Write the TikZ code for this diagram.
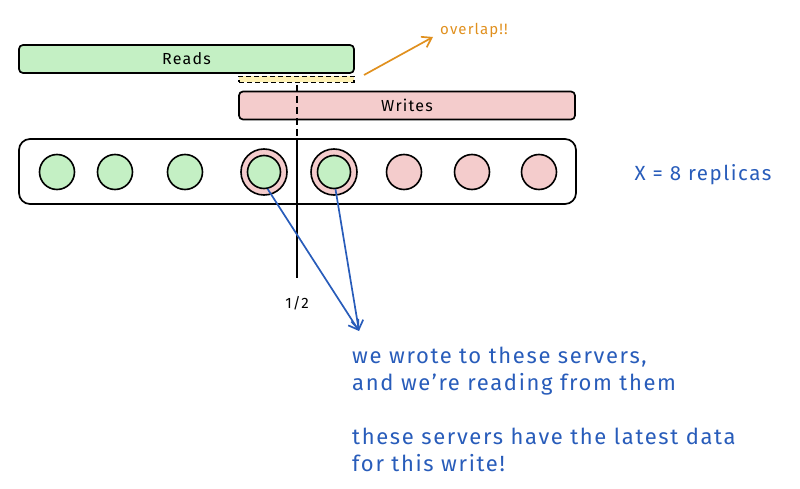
\documentclass[tikz,border=0pt]{standalone}
\usepackage{fontspec}
\setmainfont{Fira Sans}[LetterSpace=7.5]
\usetikzlibrary{arrows.meta}
\definecolor{gfill}{RGB}{196,240,196}
\definecolor{pfill}{RGB}{244,204,204}
\definecolor{yfill}{RGB}{255,242,180}
\definecolor{bluet}{RGB}{40,92,186}
\definecolor{orng}{RGB}{224,144,30}
\tikzset{
  bar/.style={draw=black, line width=1.7pt, rounded corners=4pt, minimum height=28pt, inner sep=0pt},
  rep/.style={circle, draw=black, line width=1.6pt, minimum size=35pt, inner sep=0pt},
  replica/.style={rep, fill=gfill},
  preplica/.style={rep, fill=pfill},
  outerrep/.style={circle, draw=black, line width=1.6pt, fill=pfill, minimum size=46pt, inner sep=0pt},
  note/.style={text=bluet, font=\fontsize{22}{27}\selectfont, align=left, inner sep=0pt},
  barrow/.style={draw=bluet, line width=1.7pt, -{Straight Barb[length=9pt,width=12pt]}},
}
\begin{document}
\begin{tikzpicture}[x=1pt,y=-1pt]
\useasboundingbox (0,0) rectangle (800,489);
% bars
\node[bar, fill=gfill, minimum width=335pt] (reads) at (186.5,59) {\fontsize{16}{18}\selectfont Reads};
\node[draw=black, dash pattern=on 5pt off 3pt, line width=1.7pt, fill=yfill, minimum width=115pt, minimum height=6pt, inner sep=0pt] (overlap) at (296.5,79.5) {};
\node[bar, fill=pfill, minimum width=336pt] (writes) at (407,105.5) {\fontsize{16}{18}\selectfont Writes};
% replica container
\node[draw=black, line width=1.7pt, rounded corners=11pt, minimum width=557pt, minimum height=65pt, inner sep=0pt] (group) at (297.5,171.5) {};
% replicas
\node[replica] (r1) at (57,172) {};
\node[replica] (r2) at (115,172) {};
\node[replica] (r3) at (185,172) {};
\node[outerrep] (r4o) at (264,172) {};
\node[replica, minimum size=33pt] (r4) at (264,172) {};
\node[outerrep] (r5o) at (334,172) {};
\node[replica, minimum size=33pt] (r5) at (334,172) {};
\node[preplica] (r6) at (404,172) {};
\node[preplica] (r7) at (472,172) {};
\node[preplica] (r8) at (539,172) {};
% half line
\coordinate (htop) at (297,85);
\coordinate (hmid) at (297,139);
\coordinate (hbot) at (297,278);
\draw[line width=1.7pt, dash pattern=on 7pt off 4pt] (htop) -- (hmid);
\draw[line width=1.7pt] (hmid) -- (hbot);
\node[font=\fontsize{15}{18}\selectfont, inner sep=0pt] (half) at (297,303) {1/2};
% overlap arrow
\coordinate (otail) at (364,75);
\coordinate (otip) at (433,37);
\draw[draw=orng, line width=1.7pt, -{Straight Barb[length=9pt,width=12pt]}] (otail) -- (otip);
\node[text=orng, font=\fontsize{15}{17}\selectfont, anchor=west, inner sep=0pt] (ovl) at (440,30) {overlap!!};
% replicas label
\node[text=bluet, font=\fontsize{20.5}{22}\selectfont, inner sep=0pt] (xlab) at (703,175) {X = 8 replicas};
% blue arrows
\coordinate (tip) at (359,331);
\draw[barrow] (r4.-78) -- (tip);
\draw[barrow] (r5.-85) -- (tip);
% notes
\node[note, anchor=north west] (n1) at (352,347) {we wrote to these servers,\\and we're reading from them\\[27pt]these servers have the latest data\\for this write!};
\end{tikzpicture}
\end{document}
